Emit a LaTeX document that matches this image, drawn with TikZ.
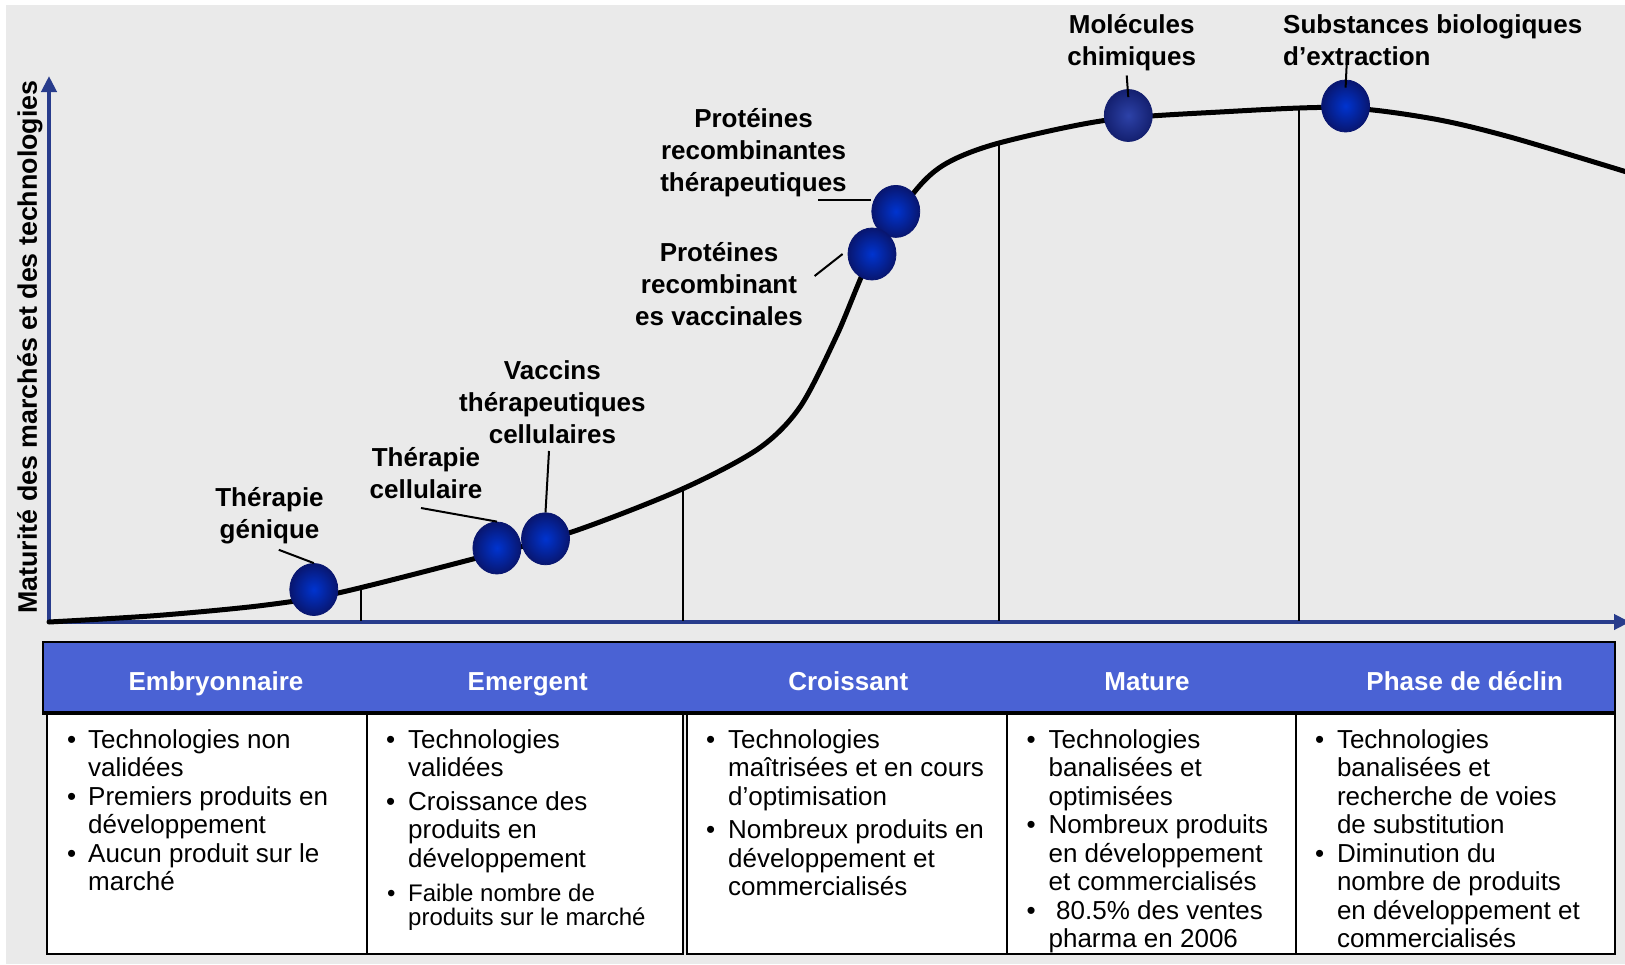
\documentclass[tikz,border=0pt]{standalone}
\usepackage{fontspec}
\setmainfont{Liberation Sans}
\usetikzlibrary{arrows.meta,shapes.geometric}
\definecolor{bgc}{RGB}{234,234,234}
\definecolor{axisc}{RGB}{40,60,140}
\definecolor{hdrc}{RGB}{74,98,212}
\definecolor{ballin}{RGB}{0,52,208}
\definecolor{ballout}{RGB}{8,22,112}
\definecolor{ballinB}{RGB}{45,66,168}
\definecolor{balloutB}{RGB}{20,32,112}
\tikzset{
  lbl/.style={font=\bfseries\fontsize{26}{32}\selectfont, align=center, inner sep=0pt},
  bodyline/.style={font=\fontsize{26}{28.5}\selectfont, anchor=base west, inner sep=0pt},
  smallline/.style={font=\fontsize{24}{26}\selectfont, anchor=base west, inner sep=0pt},
  hdrtitle/.style={font=\bfseries\fontsize{26}{30}\selectfont, text=white, anchor=base, inner sep=0pt},
  ball/.style={ellipse, minimum width=48pt, minimum height=52pt, inner sep=0pt, draw=ballout, line width=0.8pt, shade, inner color=ballin, outer color=ballout},
  ballB/.style={ball, draw=balloutB, inner color=ballinB, outer color=balloutB},
  axisline/.style={draw=axisc, line width=4pt},
  leader/.style={draw=black, line width=2pt},
  vline/.style={draw=black, line width=2pt},
  cellbox/.style={draw=black, line width=2.4pt, fill=white, anchor=north west, inner sep=0pt, minimum height=242pt},
}
\begin{document}
\begin{tikzpicture}[x=1pt,y=-1pt]
\useasboundingbox (0,0) rectangle (1625,964);
\fill[white] (0,0) rectangle (1625,964);
\fill[bgc] (6,5) rectangle (1625,964);

% axes
\coordinate (o) at (49,622);
\coordinate (ytip) at (49,76);
\coordinate (xtip) at (1630,622);
\draw[axisline, -{Triangle[width=15pt,length=16pt]}] (o) -- (ytip);
\draw[axisline, -{Triangle[width=15pt,length=16pt]}] (o) -- (xtip);
\node[rotate=90, font=\bfseries\fontsize{26.8}{30}\selectfont, inner sep=0pt] (ylab) at (30,347) {Maturité des marchés et des technologies};

% vertical phase lines
\coordinate (v1t) at (360.5,588); \coordinate (v1b) at (360.5,621);
\coordinate (v2t) at (682.5,486); \coordinate (v2b) at (682.5,621);
\coordinate (v3t) at (999,141);   \coordinate (v3b) at (999,621);
\coordinate (v4t) at (1299,108);  \coordinate (v4b) at (1299,621);
\draw[vline] (v1t) -- (v1b);
\draw[vline] (v2t) -- (v2b);
\draw[vline] (v3t) -- (v3b);
\draw[vline] (v4t) -- (v4b);

% curve
\draw[line width=5pt, line join=round, line cap=round] plot[smooth, tension=0.5] coordinates {
 (49,622) (157,615.5) (262,605.5) (338,593) (473,559) (570,532.6)
 (680,490) (758,449) (800,407) (837,335) (872,254) (916,190) (947,163)
 (999,143) (1105,120.4) (1220,112) (1340,107.5) (1431,118.4) (1510,137) (1630,173)};

% balls
\node[ball] (bA) at (313.8,589.5) {};
\node[ball] (bB) at (496.9,548) {};
\node[ball] (bC) at (545.5,538.8) {};
\node[ball] (bE) at (895.8,211.4) {};
\node[ball] (bD) at (872,254) {};
\node[ballB] (bF) at (1128.3,115.5) {};
\node[ball] (bG) at (1345.6,106) {};

% labels
\node[lbl] (tA) at (269.5,515.5) {Thérapie\\génique};
\node[lbl] (tB) at (426,473) {Thérapie\\cellulaire};
\node[lbl] (tC) at (552.4,402) {Vaccins\\thérapeutiques\\cellulaires};
\node[lbl] (tD) at (719,284) {Protéines\\recombinant\\es vaccinales};
\node[lbl] (tE) at (753.5,153) {Protéines\\recombinantes\\thérapeutiques};
\node[lbl] (tF) at (1131.7,42.5) {Molécules\\chimiques};
\node[lbl, align=left, anchor=west] (tG) at (1283,40) {Substances biologiques\\d’extraction};

% leaders
\coordinate (lA) at (278.8,549.8);
\coordinate (lB) at (421,508);
\coordinate (lC) at (549,451);
\coordinate (lD) at (814.6,276);
\coordinate (lE) at (818,200);
\coordinate (lF) at (1126.7,75.5);
\coordinate (lG) at (1347,57);
\draw[leader] (lA) -- (bA.north);
\draw[leader] (lB) -- (bB.north);
\draw[leader] (lC) -- (bC.north);
\draw[leader] (lD) -- ([xshift=-5pt]bD.west);
\draw[leader] (lE) -- (lE -| bE.west);
\draw[leader] (lF) -- ([yshift=-8pt]bF.north);
\draw[leader] (lG) -- ([yshift=-8pt]bG.north);

% table body cells
\node[cellbox, minimum width=320pt] (c1) at (46,711) {};
\node[cellbox, minimum width=316pt] (c2) at (366,711) {};
\node[cellbox, minimum width=320pt] (c3) at (686,711) {};
\node[cellbox, minimum width=289pt] (c4) at (1006,711) {};
\node[cellbox, minimum width=319pt] (c5) at (1295,711) {};

% header
\node[draw=black, line width=2.4pt, fill=hdrc, anchor=north west, inner sep=0pt, minimum width=1572pt, minimum height=70pt] (hdr) at (42,641) {};
\draw[line width=3.5pt] (hdr.south west) -- (hdr.south east);
\node[hdrtitle] (h1) at (216,690) {Embryonnaire};
\node[hdrtitle] (h2) at (527.7,690) {Emergent};
\node[hdrtitle] (h3) at (848.3,690) {Croissant};
\node[hdrtitle] (h4) at (1147,690) {Mature};
\node[hdrtitle] (h5) at (1464.7,690) {Phase de déclin};

% bullets
\foreach \xx/\yy [count=\i] in {67/748, 67/805, 67/862,
  386/748, 386/810, 706/748, 706/838.5,
  1026.5/748, 1026.5/833.5, 1026.5/919, 1315/748, 1315/862}
  \node[bodyline] (bu\i) at (\xx,\yy) {•};
\node[smallline] (bus) at (387,901) {•};

% body lines
\foreach \xx/\yy/\txt [count=\i] in {
  88/748/Technologies non, 88/776.5/validées, 88/805/Premiers produits en,
  88/833.5/développement, 88/862/Aucun produit sur le, 88/890.5/marché,
  408/748/Technologies, 408/776.5/validées, 408/810/Croissance des,
  408/838.5/produits en, 408/867/développement,
  728/748/Technologies, 728/776.5/maîtrisées et en cours, 728/805/d’optimisation,
  728/838.5/Nombreux produits en, 728/867/développement et, 728/895.5/commercialisés,
  1048.4/748/Technologies, 1048.4/776.5/banalisées et, 1048.4/805/optimisées,
  1048.4/833.5/Nombreux produits, 1048.4/862/en développement, 1048.4/890.5/et commercialisés,
  1056/919/80.5\% des ventes, 1048.4/947/pharma en 2006,
  1336.8/748/Technologies, 1336.8/776.5/banalisées et, 1336.8/805/recherche de voies,
  1336.8/833.5/de substitution, 1336.8/862/Diminution du, 1336.8/890.5/nombre de produits,
  1336.8/919/en développement et, 1336.8/947/commercialisés}
  \node[bodyline] (bl\i) at (\xx,\yy) {\txt};
\node[smallline] (sl1) at (408,901) {Faible nombre de};
\node[smallline] (sl2) at (408,925) {produits sur le marché};
\end{tikzpicture}
\end{document}
